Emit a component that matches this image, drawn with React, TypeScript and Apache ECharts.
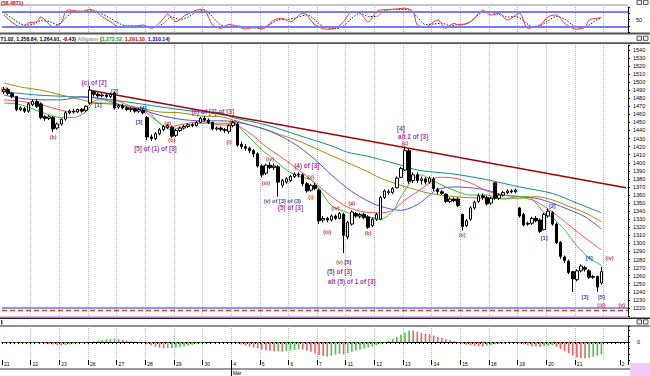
import React, { useEffect, useRef } from "react";
import * as echarts from "echarts";

const BAR_COUNT = 153;
const BARS_PER_DAY = 7;
const dayLabels = ["21", "22", "23", "26", "27", "28", "29", "30", "4", "5", "6", "7", "11", "12", "13", "14", "15", "18", "19", "20", "21"];
const tailLabel = "2";
const tailLabelIndex = 151;
const monthLabel = "Mar";
const oscTitle = "(58.4871)";
const headerQuote = "71.02, 1,258.84, 1,264.91, -0.43)";
const headerName = "Alligator";
const headerLips = "1,272.52,";
const headerTeeth = "1,291.10,";
const headerJaw = "1,310.14";

// [open, close, low, high] per hourly bar
const ohlc: number[][] = [
  [1488, 1491, 1485, 1494], [1491, 1486, 1484, 1493], [1486, 1482, 1480, 1488], [1482, 1466, 1464, 1483], [1466, 1468, 1464, 1470], [1467, 1464, 1462, 1469], [1464, 1473, 1462, 1475],
  [1472, 1476, 1470, 1478], [1476, 1470, 1468, 1479], [1473, 1456, 1454, 1475], [1457, 1455, 1452, 1459], [1455, 1457, 1453, 1459], [1456, 1442, 1438, 1458], [1443, 1448, 1441, 1450],
  [1448, 1454, 1446, 1455], [1454, 1462, 1452, 1464], [1462, 1464, 1460, 1466], [1464, 1463, 1461, 1467], [1463, 1466, 1462, 1467], [1466, 1464, 1462, 1468], [1465, 1470, 1463, 1471],
  [1474, 1490, 1472, 1495], [1488, 1485, 1482, 1490], [1485, 1483, 1481, 1487], [1483, 1484, 1481, 1486], [1484, 1482, 1480, 1486], [1482, 1485, 1480, 1487], [1486, 1468, 1466, 1488],
  [1469, 1471, 1467, 1473], [1471, 1468, 1466, 1473], [1468, 1466, 1464, 1470], [1466, 1467, 1463, 1469], [1467, 1464, 1462, 1468], [1464, 1466, 1462, 1468], [1465, 1462, 1460, 1467],
  [1456, 1432, 1428, 1458], [1432, 1430, 1427, 1435], [1430, 1436, 1428, 1438], [1436, 1441, 1434, 1443], [1441, 1445, 1439, 1447], [1444, 1446, 1442, 1448], [1444, 1433, 1431, 1446],
  [1434, 1440, 1432, 1442], [1440, 1443, 1438, 1445], [1443, 1445, 1441, 1447], [1445, 1447, 1443, 1449], [1447, 1446, 1444, 1449], [1446, 1450, 1445, 1452], [1450, 1455, 1449, 1457],
  [1455, 1453, 1451, 1458], [1453, 1450, 1448, 1455], [1450, 1442, 1440, 1451], [1442, 1443, 1440, 1445], [1443, 1441, 1439, 1445], [1441, 1440, 1437, 1443], [1439, 1446, 1436, 1448],
  [1446, 1450, 1444, 1452], [1448, 1422, 1420, 1450], [1423, 1420, 1417, 1426], [1420, 1418, 1415, 1423], [1418, 1415, 1412, 1420], [1415, 1411, 1407, 1417], [1411, 1396, 1394, 1413],
  [1396, 1385, 1382, 1398], [1387, 1397, 1385, 1399], [1397, 1394, 1392, 1401], [1394, 1396, 1391, 1399], [1395, 1376, 1358, 1397], [1372, 1378, 1369, 1380], [1376, 1380, 1374, 1382],
  [1378, 1383, 1376, 1385], [1383, 1386, 1381, 1388], [1386, 1385, 1382, 1388], [1385, 1374, 1371, 1387], [1374, 1365, 1363, 1376], [1366, 1372, 1364, 1374], [1372, 1368, 1366, 1375],
  [1366, 1328, 1324, 1368], [1329, 1331, 1326, 1334], [1331, 1329, 1326, 1333], [1329, 1334, 1327, 1336], [1334, 1331, 1329, 1336], [1331, 1337, 1330, 1339], [1336, 1310, 1288, 1338],
  [1308, 1326, 1305, 1328], [1324, 1339, 1322, 1341], [1337, 1334, 1332, 1339], [1334, 1336, 1331, 1338], [1336, 1332, 1330, 1338], [1333, 1320, 1318, 1335], [1322, 1330, 1320, 1332],
  [1330, 1336, 1328, 1338], [1330, 1357, 1329, 1359], [1357, 1365, 1355, 1367], [1364, 1363, 1360, 1367], [1363, 1368, 1361, 1370], [1369, 1381, 1368, 1383], [1382, 1393, 1381, 1395],
  [1391, 1415, 1390, 1420], [1415, 1377, 1374, 1417], [1378, 1385, 1375, 1388], [1385, 1378, 1375, 1388], [1378, 1380, 1373, 1383], [1380, 1376, 1373, 1382], [1376, 1381, 1374, 1383],
  [1380, 1368, 1365, 1382], [1367, 1364, 1361, 1369], [1364, 1362, 1360, 1366], [1361, 1352, 1350, 1362], [1352, 1355, 1350, 1357], [1355, 1353, 1351, 1357], [1355, 1347, 1345, 1357],
  [1336, 1321, 1316, 1337], [1322, 1328, 1320, 1330], [1330, 1344, 1328, 1346], [1344, 1351, 1342, 1353], [1352, 1359, 1350, 1362], [1359, 1357, 1354, 1362], [1357, 1349, 1347, 1359],
  [1350, 1356, 1348, 1358], [1375, 1356, 1354, 1376], [1356, 1360, 1354, 1362], [1360, 1363, 1358, 1365], [1363, 1365, 1361, 1367], [1365, 1364, 1362, 1367], [1364, 1366, 1362, 1368],
  [1344, 1334, 1332, 1345], [1336, 1323, 1321, 1338], [1324, 1325, 1322, 1327], [1325, 1331, 1323, 1333], [1331, 1328, 1326, 1334], [1329, 1315, 1313, 1331], [1317, 1336, 1316, 1338],
  [1334, 1340, 1332, 1343], [1338, 1324, 1322, 1340], [1324, 1301, 1299, 1326], [1301, 1284, 1281, 1303], [1283, 1279, 1276, 1285], [1278, 1264, 1262, 1280], [1265, 1256, 1240, 1266],
  [1255, 1266, 1253, 1268], [1266, 1272, 1264, 1274], [1270, 1268, 1265, 1272], [1266, 1258, 1256, 1268], [1258, 1259, 1256, 1261], [1259, 1246, 1240, 1260], [1251, 1265, 1249, 1271],
];

// read samples [bar, value]
const oliveLine = [[0, 1499], [4, 1494], [9, 1490], [14, 1484], [19, 1478], [23, 1474], [28, 1472], [33, 1468], [38, 1463], [43, 1462], [48, 1458], [53, 1457], [56, 1453], [60, 1447], [64, 1441], [68, 1434], [72, 1427], [76, 1418], [80, 1409], [84, 1400], [88, 1391], [92, 1381], [97, 1372], [101, 1366], [104, 1362], [110, 1358], [118, 1356], [126, 1356], [130, 1358], [134, 1354], [138, 1346], [142, 1338], [146, 1327]];
const tealLine = [[0, 1488], [8, 1484], [16, 1482], [23, 1480], [32, 1474], [40, 1468], [48, 1463], [53, 1462], [56, 1456], [64, 1447], [72, 1434], [80, 1421], [84, 1413], [88, 1409], [92, 1404], [97, 1397], [101, 1391], [104, 1389], [110, 1386], [118, 1379], [126, 1370], [134, 1362], [140, 1350], [146, 1338]];
const jawLine = [[0, 1484], [4, 1480], [9, 1478], [14, 1478], [19, 1482], [23, 1480], [26, 1476], [30, 1469], [34, 1465], [38, 1459], [43, 1454], [48, 1452], [53, 1452], [56, 1451], [60, 1447], [64, 1441], [68, 1432], [72, 1420], [76, 1404], [80, 1385], [84, 1368], [88, 1355], [92, 1346], [97, 1341], [101, 1348], [104, 1360], [106, 1367], [110, 1370], [114, 1369], [118, 1366], [122, 1360], [126, 1358], [130, 1356], [134, 1350], [138, 1342], [142, 1333], [146, 1318]];
const teethLine = [[0, 1478], [4, 1476], [9, 1472], [14, 1465], [17, 1463], [20, 1469], [23, 1478], [27, 1478], [30, 1472], [34, 1465], [37, 1453], [40, 1444], [43, 1447], [48, 1451], [53, 1447], [56, 1447], [60, 1437], [64, 1420], [68, 1406], [72, 1391], [76, 1375], [80, 1358], [84, 1345], [88, 1339], [92, 1338], [95, 1341], [98, 1354], [101, 1364], [104, 1375], [106, 1382], [110, 1381], [114, 1375], [118, 1365], [122, 1360], [126, 1358], [130, 1352], [134, 1339], [138, 1323], [142, 1307], [146, 1292]];
const lipsLine = [[0, 1474], [4, 1472], [9, 1463], [14, 1456], [17, 1456], [20, 1463], [22, 1474], [26, 1474], [30, 1469], [34, 1468], [38, 1449], [41, 1441], [43, 1444], [48, 1449], [53, 1449], [56, 1449], [58, 1441], [61, 1426], [63, 1416], [66, 1404], [69, 1391], [72, 1383], [75, 1379], [77, 1368], [80, 1347], [84, 1338], [87, 1333], [90, 1332], [92, 1330], [95, 1340], [97, 1358], [100, 1380], [102, 1385], [104, 1380], [108, 1370], [112, 1362], [114, 1360], [118, 1360], [122, 1355], [126, 1358], [128, 1358], [130, 1350], [132, 1338], [134, 1332], [137, 1317], [140, 1297], [143, 1282], [146, 1273]];
const trendLine = [[21, 1490], [152, 1369]];
const supportLevel = 1220;
const stopLevel = 1217;

const oscK = [[0, 68], [4, 21], [5, 25], [6, 37], [8, 41], [9, 61], [10, 48], [12, 21], [14, 37], [15, 81], [16, 88], [19, 81], [21, 91], [23, 75], [24, 61], [26, 41], [28, 21], [30, 24], [32, 24], [34, 28], [36, 15], [37, 21], [39, 55], [40, 72], [41, 55], [42, 41], [44, 64], [46, 81], [48, 91], [49, 88], [51, 28], [53, 15], [55, 30], [57, 22], [59, 12], [61, 20], [63, 12], [66, 48], [68, 55], [70, 41], [73, 75], [74, 68], [76, 28], [79, 11], [81, 15], [83, 41], [85, 81], [87, 75], [89, 41], [91, 81], [92, 88], [95, 91], [98, 95], [100, 81], [101, 28], [103, 21], [106, 48], [108, 15], [110, 35], [111, 28], [114, 41], [116, 75], [117, 88], [119, 68], [121, 75], [123, 48], [126, 75], [128, 15], [131, 28], [133, 61], [135, 68], [137, 35], [139, 15], [140, 11], [142, 21], [143, 48], [145, 55], [146, 59]];
const oscD = [[0, 78], [2, 55], [5, 28], [7, 30], [9, 45], [11, 42], [13, 30], [15, 55], [17, 82], [20, 84], [22, 85], [24, 72], [26, 55], [28, 35], [30, 24], [33, 24], [35, 22], [37, 18], [39, 35], [41, 60], [43, 50], [45, 60], [47, 80], [49, 88], [51, 60], [53, 28], [55, 22], [57, 25], [59, 18], [61, 16], [63, 16], [65, 30], [67, 48], [69, 50], [71, 55], [74, 68], [76, 48], [78, 22], [81, 13], [83, 25], [85, 55], [87, 75], [89, 62], [91, 62], [93, 85], [96, 90], [99, 88], [101, 60], [103, 30], [105, 32], [107, 35], [109, 25], [111, 30], [113, 32], [115, 55], [117, 78], [119, 78], [121, 70], [123, 60], [125, 62], [127, 45], [129, 22], [131, 25], [133, 45], [135, 62], [137, 52], [139, 28], [141, 14], [143, 28], [145, 50], [146, 55]];
const oscUpper = 80;
const oscLower = 20;

const histValues = [
  -0.8, -1.0, -1.2, -1.0, -1.3, -1.1, -1.3,
  -1.0, -0.8, -0.9, -1.5, -2.0, -2.6, -3.2,
  -3.4, -3.0, -2.4, -1.8, -1.3, -0.8, -0.4,
  0.3, 0.8, 1.4, 2.0, 2.6, 3.0, 3.3,
  2.8, 2.2, 1.4, 0.8, 0.3, -0.2, -0.8,
  -2.0, -3.5, -4.8, -5.8, -6.5, -6.2, -6.0,
  -5.6, -5.0, -4.4, -3.6, -2.8, -2.0, -1.2,
  -0.6, -0.3, -0.5, -0.4, -0.7, -0.6, -0.5,
  -0.8, -1.5, -2.6, -3.6, -4.5, -5.4, -6.3,
  -7.4, -8.3, -8.8, -9.5, -9.2, -9.6, -9.0,
  -8.4, -7.8, -7.0, -7.5, -8.4, -9.8, -11.5,
  -13.0, -14.0, -14.6, -13.8, -12.6, -11.8, -12.4,
  -11.2, -9.8, -8.6, -7.6, -6.5, -5.6, -4.5,
  -3.2, -2.0, -0.8, 1.0, 3.0, 5.2, 7.4,
  9.6, 11.6, 11.2, 10.2, 9.0, 8.2, 7.6,
  6.6, 5.4, 4.2, 3.0, 1.8, 0.8, -0.6,
  -1.8, -2.6, -3.2, -3.8, -4.2, -4.6, -3.8,
  -3.0, -2.2, -1.8, -1.4, -1.0, -0.8, -0.5,
  -1.4, -2.4, -3.4, -4.2, -4.6, -5.0, -4.2,
  -3.6, -3.2, -4.8, -7.0, -9.2, -11.4, -13.6,
  -15.4, -16.2, -16.6, -15.8, -14.8, -13.6, -12.4,
];

// wave labels: [bar, price, text, kind]
const waveLabels: [number, number, string, string][] = [
  [0, 1492, "(a)", "r"], [12, 1432, "(b)", "r"], [40, 1449, "(a)", "r"], [41.3, 1428, "(b)", "r"],
  [56, 1451, "(ii)", "r"], [54.7, 1426, "(i)", "r"], [63.8, 1375, "(iii)", "r"], [65, 1405, "(iv)", "r"],
  [75.3, 1382, "(ii)", "r"], [74.8, 1357, "(i)", "r"], [79.2, 1314, "(iii)", "r"], [80.9, 1344, "(iv)", "r"],
  [81.5, 1277, "(v)", "r"], [84.8, 1350, "(a)", "r"], [89.4, 1313, "(b)", "r"], [98, 1425, "(c)", "r"],
  [112.2, 1310, "(ii)", "r"], [120.2, 1374, "(i)", "r"], [148, 1282, "(iv)", "r"], [146.4, 1224, "(iii)", "r"], [151.3, 1224, "(v)", "r"],
  [22.7, 1472, "[1]", "b"], [26.9, 1489, "[2]", "b"], [33.2, 1451, "[3]", "b"], [34.2, 1468, "[4]", "b"],
  [83.7, 1277, "[5]", "b"], [132.4, 1307, "[1]", "b"], [134.2, 1346, "[2]", "b"], [141.5, 1233, "[3]", "b"],
  [143, 1282, "[4]", "b"], [146.2, 1233, "[5]", "b"], [67.7, 1353, "(v) of [3] of (3)", "b"],
  [22, 1499, "(c) of [2]", "p"], [37.4, 1418, "[5] of (1) of [3]", "p"], [50.8, 1463, "(c) of [2] of [3]", "p"],
  [74.3, 1397, "(4) of [3]", "p"], [69.9, 1344, "(5) of [3]", "p"], [82.1, 1265, "(5) of [3]", "p"],
  [85, 1253, "alt (5) of 1 of [3]", "p"], [97.3, 1443, "[4]", "p"], [99.7, 1433, "alt 2 of [3]", "p"],
];

const FONT = '"Liberation Sans", Arial, sans-serif';
const labelColors: Record<string, string> = { r: "#b40000", b: "#0000b4", p: "#8c008c" };
const labelSizes: Record<string, number> = { r: 5.4, b: 5.6, p: 6.4 };

const categories = Array.from({ length: BAR_COUNT }, (_, i) => String(i));
const isDayStart = (i: number) => (i % BARS_PER_DAY === 0 && i / BARS_PER_DAY < dayLabels.length) || i === tailLabelIndex;
const dayText = (i: number) => (i === tailLabelIndex ? tailLabel : dayLabels[i / BARS_PER_DAY] ?? "");

const L = 2;
const R = 22;
const HF = 5.2;

function buildOption() {
  const baseX = (gridIndex: number) => ({
    type: "category" as const,
    gridIndex,
    data: categories,
    boundaryGap: true,
    axisLine: { show: false },
    axisTick: { show: false },
    axisLabel: { show: false },
    splitLine: { show: true, interval: (i: number) => i % BARS_PER_DAY === 0 && i > 0, lineStyle: { color: "#b4b4b4", type: "dotted", width: 1 } },
  });
  const lineSeries = (data: number[][], color: string, width = 1) => ({
    type: "line",
    xAxisIndex: 1,
    yAxisIndex: 1,
    data,
    smooth: 0.3,
    symbol: "none",
    lineStyle: { color, width },
    silent: true,
    z: 3,
  });
  const rich = (fill: string) => ({ fill, fontSize: HF, fontWeight: "bold", fontFamily: FONT });
  return {
    animation: false,
    backgroundColor: "#fff",
    grid: [
      { left: L, right: R, top: 7, height: 25 },
      { left: L, right: R, top: 45, height: 271 },
      { left: L, right: R, top: 326, height: 34 },
    ],
    xAxis: [
      baseX(0),
      baseX(1),
      {
        ...baseX(2),
        position: "bottom",
        axisLine: { show: true, lineStyle: { color: "#000", width: 1 } },
        axisTick: { show: true, interval: 0, length: 2, lineStyle: { color: "#000" } },
      },
      {
        type: "category",
        gridIndex: 2,
        data: categories,
        boundaryGap: true,
        position: "bottom",
        axisLine: { show: false },
        axisTick: { show: true, interval: (i: number) => isDayStart(i), length: 5, lineStyle: { color: "#000" } },
        axisLabel: {
          show: true,
          interval: (i: number) => isDayStart(i),
          formatter: (_v: string, i: number) => dayText(i),
          align: "left",
          margin: 1.5,
          fontSize: 5,
          fontFamily: FONT,
          color: "#000",
        },
        splitLine: { show: false },
      },
    ],
    yAxis: [
      {
        type: "value", gridIndex: 0, position: "right", min: 0, max: 100, interval: 25,
        axisLine: { show: true, lineStyle: { color: "#000" } },
        axisTick: { show: true, length: 2, lineStyle: { color: "#000" } },
        axisLabel: { formatter: (v: number) => (v === 50 ? "50" : ""), fontSize: 5.5, fontFamily: FONT, color: "#000", margin: 8 },
        splitLine: { show: false },
      },
      {
        type: "value", gridIndex: 1, position: "right", min: 1210, max: 1546, interval: 10,
        axisLine: { show: true, lineStyle: { color: "#000" } },
        axisTick: { show: true, length: 2, lineStyle: { color: "#000" } },
        axisLabel: { formatter: (v: number) => (v >= 1220 && v <= 1540 && v % 10 === 0 ? String(v) : ""), fontSize: 5.5, fontFamily: FONT, color: "#000", margin: 5 },
        splitLine: { show: false },
      },
      {
        type: "value", gridIndex: 2, position: "right", min: -18, max: 16, interval: 6,
        axisLine: { show: true, lineStyle: { color: "#000" } },
        axisTick: { show: true, length: 2, lineStyle: { color: "#000" } },
        axisLabel: { formatter: (v: number) => (v === 0 ? "0" : ""), fontSize: 5.5, fontFamily: FONT, color: "#000", margin: 9 },
        splitLine: { show: false },
      },
    ],
    series: [
      {
        type: "line", xAxisIndex: 0, yAxisIndex: 0, data: oscD, smooth: 0.3, symbol: "none",
        lineStyle: { color: "#222", width: 1, type: [1.5, 1.5] }, silent: true, z: 3,
        markLine: {
          silent: true, symbol: "none", label: { show: false },
          lineStyle: { color: "#7a7aff", width: 2, type: "solid" },
          data: [{ yAxis: oscUpper }, { yAxis: oscLower }],
        },
      },
      {
        type: "line", xAxisIndex: 0, yAxisIndex: 0, data: oscK, smooth: 0.3, symbol: "none",
        lineStyle: { color: "#ff3030", width: 1 }, silent: true, z: 4,
      },
      {
        type: "candlestick", xAxisIndex: 1, yAxisIndex: 1, data: ohlc, barWidth: 3,
        itemStyle: { color: "#ffffff", color0: "#000000", borderColor: "#000000", borderColor0: "#000000", borderWidth: 1 },
        silent: true, z: 5,
        markLine: {
          silent: true, symbol: "none", label: { show: false },
          data: [
            { yAxis: supportLevel, lineStyle: { color: "#6b6bff", width: 1.5, type: "solid" } },
            { yAxis: stopLevel, lineStyle: { color: "#d2451e", width: 1.3, type: [5, 3] } },
          ],
        },
      },
      lineSeries(tealLine, "#0a8f8f"),
      lineSeries(oliveLine, "#9c8c00"),
      lineSeries(jawLine, "#5050ff"),
      lineSeries(teethLine, "#ff5050"),
      lineSeries(lipsLine, "#30c030"),
      { ...lineSeries(trendLine, "#a00000", 1.5), smooth: false },
      {
        type: "scatter", xAxisIndex: 1, yAxisIndex: 1, symbolSize: 1,
        itemStyle: { color: "rgba(0,0,0,0)" }, silent: true, z: 10,
        data: waveLabels.map(([i, v, t, k]) => ({
          value: [i, v],
          name: t,
          label: { show: true, position: "inside", formatter: t, color: labelColors[k], fontSize: labelSizes[k], fontWeight: "bold", fontFamily: FONT },
        })),
      },
      {
        type: "bar", xAxisIndex: 2, yAxisIndex: 2, barWidth: 1.6, silent: true,
        data: histValues.map((v, i) => ({
          value: v,
          itemStyle: { color: i > 0 && v < histValues[i - 1] ? "#f06060" : "#4cbf4c" },
        })),
      },
    ],
    graphic: [
      { type: "line", shape: { x1: 0, y1: 5, x2: 628, y2: 5 }, style: { stroke: "#8a8a8a", lineWidth: 1 } },
      { type: "rect", shape: { x: 0, y: 32.6, width: 650, height: 2 }, style: { fill: "#555" } },
      { type: "rect", shape: { x: 0, y: 42.3, width: 650, height: 1.6 }, style: { fill: "#555" } },
      { type: "line", shape: { x1: 0, y1: 316.5, x2: 628, y2: 316.5 }, style: { stroke: "#e7b4e7", lineWidth: 1 } },
      { type: "rect", shape: { x: 0, y: 317.4, width: 650, height: 1.6 }, style: { fill: "#222" } },
      { type: "rect", shape: { x: 0, y: 325.4, width: 650, height: 1 }, style: { fill: "#222" } },
      { type: "rect", shape: { x: 1, y: 320, width: 1.4, height: 4.5 }, style: { fill: "#e00000" } },
      { type: "rect", shape: { x: 0, y: 368, width: 630, height: 2 }, style: { fill: "#9a9a9a" } },
      { type: "line", shape: { x1: 231.5, y1: 361, x2: 231.5, y2: 376 }, style: { stroke: "#000", lineWidth: 1 } },
      { type: "text", x: 233, y: 371, style: { text: monthLabel, fill: "#000", fontSize: 4.8, fontFamily: FONT, verticalAlign: "top" } },
      { type: "rect", shape: { x: 630, y: 363, width: 20, height: 13 }, style: { fill: "#f6c9f6" } },
      ...[0.3, 36.2, 319.8].flatMap((y) => [
        { type: "rect", shape: { x: 637, y, width: 4.5, height: 4.2 }, style: { fill: "#eee", stroke: "#333", lineWidth: 0.8 } },
        { type: "rect", shape: { x: 643.5, y, width: 4.5, height: 4.2 }, style: { fill: "#eee", stroke: "#333", lineWidth: 0.8 } },
      ]),
      {
        type: "text", x: 1, y: 0.4, z: 20,
        style: { text: oscTitle, fill: "#e00000", fontSize: 5.2, fontWeight: "bold", fontFamily: FONT, verticalAlign: "top" },
      },
      {
        type: "text", x: 0.5, y: 39.2,
        style: {
          text: `{k|${headerQuote}} {g|${headerName}} {k|(}{gr|${headerLips}} {r|${headerTeeth}} {b|${headerJaw}}{k|)}`,
          verticalAlign: "middle",
          fontSize: HF, fontWeight: "bold", fontFamily: FONT,
          rich: {
            k: rich("#000"),
            g: rich("#9a9a9a"),
            gr: rich("#10a010"),
            r: rich("#e00000"),
            b: rich("#0000e0"),
          },
        },
      },
    ],
  };
}

export default function App() {
  const ref = useRef<HTMLDivElement>(null);
  useEffect(() => {
    if (!ref.current) return;
    const chart = echarts.init(ref.current, null, { renderer: "svg" });
    chart.setOption(buildOption() as any);
    return () => chart.dispose();
  }, []);
  return (
    <div
      ref={ref}
      style={{ position: "fixed", left: 0, top: 0, width: 650, height: 376, background: "#fff" }}
    />
  );
}
